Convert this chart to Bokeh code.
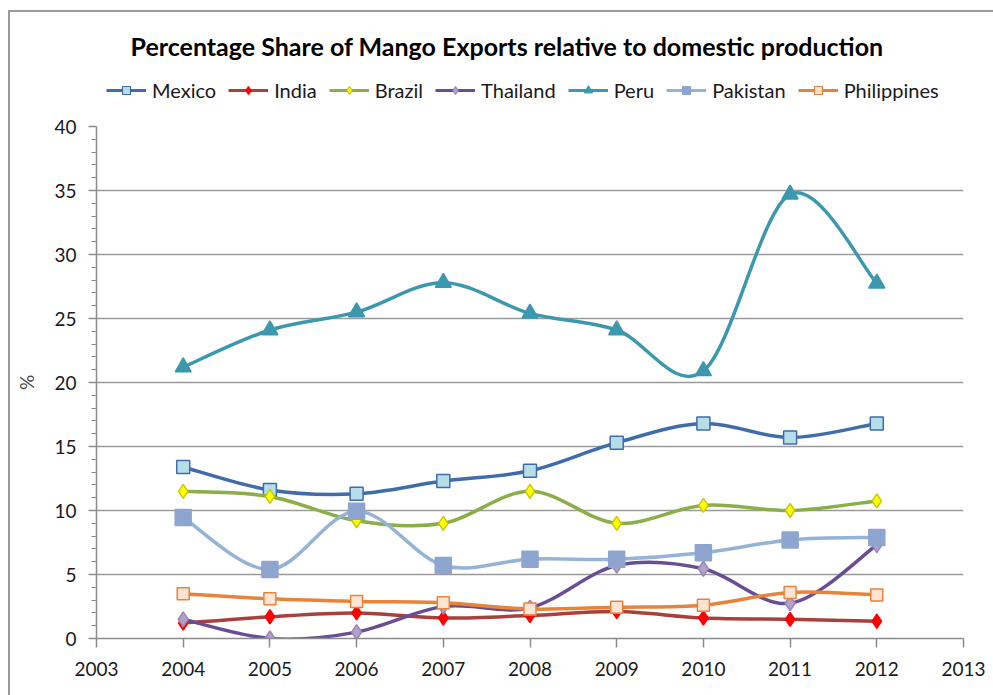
from bokeh.plotting import figure
from bokeh.layouts import column
from bokeh.models import (Legend, LegendItem, FixedTicker, Range1d,
                          InlineStyleSheet, Label)
from bokeh.embed import file_html
from bokeh.resources import INLINE

years = [2004, 2005, 2006, 2007, 2008, 2009, 2010, 2011, 2012]
mexico = [13.4, 11.6, 11.3, 12.3, 13.1, 15.3, 16.8, 15.7, 16.8]
india = [1.2, 1.7, 2.0, 1.6, 1.8, 2.1, 1.6, 1.5, 1.35]
brazil = [11.5, 11.1, 9.2, 9.0, 11.5, 9.0, 10.4, 10.0, 10.75]
thailand = [1.5, 0.0, 0.5, 2.5, 2.4, 5.7, 5.45, 2.75, 7.3]
peru = [21.2, 24.1, 25.5, 27.8, 25.4, 24.1, 20.9, 34.7, 27.75]
pakistan = [9.45, 5.4, 9.95, 5.7, 6.2, 6.2, 6.7, 7.7, 7.9]
philippines = [3.5, 3.1, 2.9, 2.8, 2.3, 2.45, 2.6, 3.6, 3.4]

x_ticks = list(range(2003, 2014))
y_ticks = [0, 5, 10, 15, 20, 25, 30, 35, 40]

title_text = "Percentage Share of Mango Exports relative to domestic production"

FONT = "Lato"

series = [
    # name, values, line color, marker, size, fill, edge
    ("Mexico", mexico, "#3E6DAA", "square", 13, "#B7DDE8", "#3E6DAA"),
    ("India", india, "#A8403D", "diamond", 14, "#FF0000", "#FF0000"),
    ("Brazil", brazil, "#8AAE48", "diamond", 14, "#FFFF00", "#C9C900"),
    ("Thailand", thailand, "#6A4E94", "diamond", 15, "#B1A0C7", "#9A86B8"),
    ("Peru", peru, "#3C98AF", "triangle", 16, "#3C98AF", "#3C98AF"),
    ("Pakistan", pakistan, "#95B3D7", "square", 16, "#8EA5D0", "#8EA5D0"),
    ("Philippines", philippines, "#E8833A", "square", 12, "#FDE4D4", "#E8833A"),
]

css = InlineStyleSheet(css="""
:host { position: relative; overflow: hidden; }
:host::after {
  content: "";
  position: absolute;
  left: 8px; top: 10px; width: 1200px; height: 1200px;
  border-left: 2px solid #9A9A9A;
  border-top: 2px solid #9A9A9A;
  pointer-events: none;
  box-sizing: border-box;
}
""")

W = 993
TOP_H = 114
LEFT = 96  # the header's frame is aligned with the chart's frame

# ---- header figure: title + legend ----
top = figure(width=W, height=TOP_H, output_backend="svg", toolbar_location=None,
             x_range=Range1d(0, 1), y_range=Range1d(0, 1),
             x_axis_location=None, y_axis_location=None,
             min_border=0, min_border_left=0, min_border_right=0,
             min_border_top=0, min_border_bottom=0)
top.grid.visible = False
top.outline_line_color = None
top.background_fill_color = "white"
top.border_fill_color = "white"

title = Label(x=130 - LEFT, y=TOP_H - 45, x_units="screen", y_units="screen",
              text=title_text, text_align="left", text_baseline="middle",
              text_font=FONT, text_font_style="bold", text_font_size="25px",
              text_color="#000000")
top.add_layout(title)

leg_items = []
for name, vals, lc, mk, sz, fc, ec in series:
    l_proxy = top.line(x=[-10, -9], y=[-10, -9], line_color=lc, line_width=3)
    m_proxy = top.scatter(x=[-10], y=[-10], marker=mk, size=12, fill_color=fc,
                          line_color=ec, line_width=1.2)
    leg_items.append(LegendItem(label=name, renderers=[l_proxy, m_proxy]))

legend = Legend(items=leg_items, orientation="horizontal",
                location=(10, TOP_H - 102),
                glyph_width=40, glyph_height=20, label_standoff=6, spacing=12,
                padding=0, margin=0, border_line_color=None,
                background_fill_alpha=0,
                label_text_font=FONT, label_text_font_size="20px",
                label_text_color="#1a1a1a", label_height=20)
top.add_layout(legend, "center")

# ---- main chart ----
p = figure(width=W, height=695 - TOP_H, output_backend="svg",
           toolbar_location=None,
           x_range=Range1d(2003, 2013), y_range=Range1d(0, 40),
           min_border_left=LEFT, min_border_right=30, min_border_top=12,
           min_border_bottom=57)
p.outline_line_color = None
p.background_fill_color = "white"
p.border_fill_color = "white"

for ax in (p.xaxis[0], p.yaxis[0]):
    ax.axis_line_color = "#8C8C8C"
    ax.axis_line_width = 1.5
    ax.major_tick_line_color = "#8C8C8C"
    ax.major_tick_line_width = 1.5
    ax.major_tick_in = 0
    ax.major_label_text_font = FONT
    ax.major_label_text_font_size = "19px"
    ax.major_label_text_color = "#1a1a1a"

p.xaxis.ticker = FixedTicker(ticks=x_ticks)
p.xaxis.major_tick_out = 9
p.xaxis.minor_tick_line_color = None
p.xaxis.major_label_standoff = 14

p.yaxis.ticker = FixedTicker(ticks=y_ticks, minor_ticks=[v for v in range(0, 41) if v % 5])
p.yaxis.major_tick_out = 8
p.yaxis.minor_tick_out = 5
p.yaxis.minor_tick_in = 0
p.yaxis.minor_tick_line_color = "#8C8C8C"
p.yaxis.minor_tick_line_width = 1.2
p.yaxis.major_label_standoff = 12
p.yaxis.axis_label = "%"
p.yaxis.axis_label_text_font = FONT
p.yaxis.axis_label_text_font_style = "normal"
p.yaxis.axis_label_text_font_size = "19px"
p.yaxis.axis_label_standoff = 13

p.xgrid.grid_line_color = None
p.ygrid.ticker = FixedTicker(ticks=y_ticks)
p.ygrid.grid_line_color = "#9A9A9A"
p.ygrid.grid_line_width = 1.5


def bezier_ctrl(xs, ys):
    n = len(xs)
    x0, y0, x1, y1, cx0, cy0, cx1, cy1 = [], [], [], [], [], [], [], []
    for i in range(n - 1):
        xa, ya = xs[max(i - 1, 0)], ys[max(i - 1, 0)]
        xb, yb = xs[i], ys[i]
        xc, yc = xs[i + 1], ys[i + 1]
        xd, yd = xs[min(i + 2, n - 1)], ys[min(i + 2, n - 1)]
        x0.append(xb); y0.append(yb); x1.append(xc); y1.append(yc)
        cx0.append(xb + (xc - xa) / 6.0); cy0.append(yb + (yc - ya) / 6.0)
        cx1.append(xc - (xd - xb) / 6.0); cy1.append(yc - (yd - yb) / 6.0)
    return dict(x0=x0, y0=y0, x1=x1, y1=y1, cx0=cx0, cy0=cy0, cx1=cx1, cy1=cy1)


for name, vals, lc, mk, sz, fc, ec in series:
    d = bezier_ctrl(years, vals)
    p.bezier(source=d, x0="x0", y0="y0", x1="x1", y1="y1",
             cx0="cx0", cy0="cy0", cx1="cx1", cy1="cy1",
             line_color=lc, line_width=3.5)
    p.scatter(x=years, y=vals, marker=mk, size=sz, fill_color=fc,
              line_color=ec, line_width=1.5)

layout = column(top, p, spacing=0)
layout.stylesheets = [css]

open("out.html", "w").write(file_html(layout, INLINE))
